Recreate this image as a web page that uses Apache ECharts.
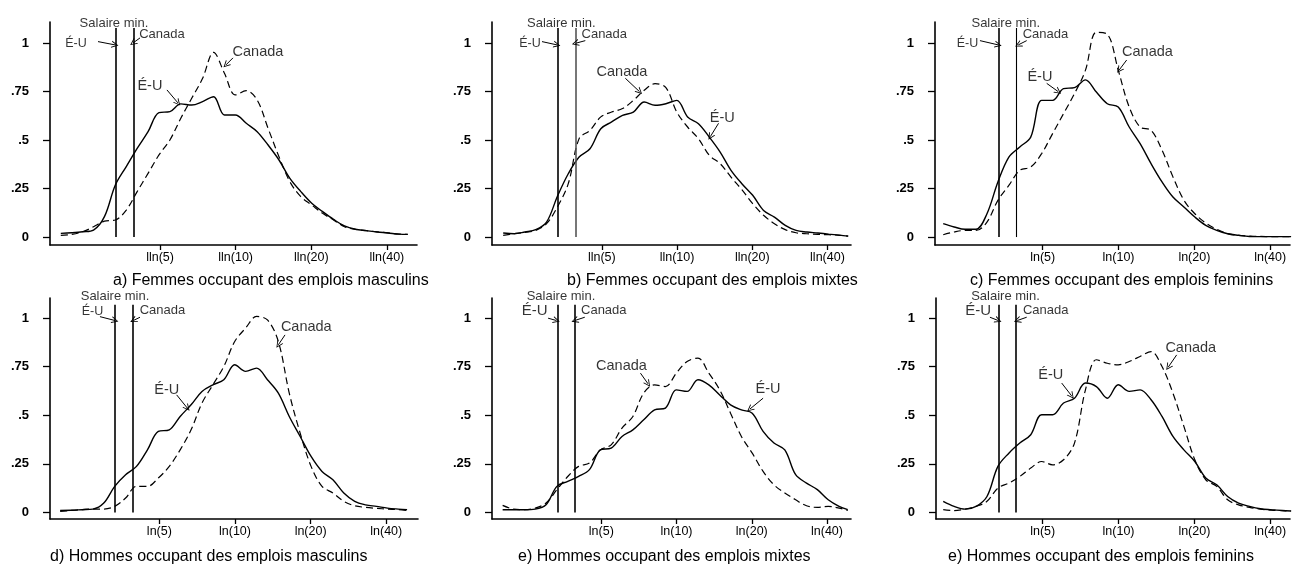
<!DOCTYPE html>
<html>
<head>
<meta charset="utf-8">
<script src="https://cdn.jsdelivr.net/npm/echarts@6/dist/echarts.min.js"></script>
<style>
  html, body { margin: 0; padding: 0; background: #fff; }
  #chart { width: 1293px; height: 567px; }
</style>
</head>
<body>
<div id="chart"></div>
<script>
// points de la grille (ln du salaire horaire)
const lnWage = [0.7, 0.8, 0.9, 1.0, 1.1, 1.2, 1.3, 1.4, 1.5, 1.6, 1.7, 1.8, 1.9, 2.0, 2.1, 2.2,
  2.3, 2.4, 2.5, 2.6, 2.7, 2.8, 2.9, 3.0, 3.1, 3.2, 3.3, 3.4, 3.5, 3.6, 3.7, 3.8, 3.88];

// densités : É-U (trait plein) et Canada (tirets)
const usA = [0.019, 0.022, 0.027, 0.036, 0.105, 0.268, 0.363, 0.457, 0.543, 0.641, 0.646, 0.686, 0.68, 0.698, 0.723, 0.629,
  0.629, 0.586, 0.543, 0.474, 0.397, 0.302, 0.234, 0.174, 0.131, 0.091, 0.057, 0.04, 0.033, 0.026, 0.021, 0.015, 0.014];
const caA = [0.009, 0.014, 0.027, 0.053, 0.082, 0.088, 0.139, 0.234, 0.328, 0.423, 0.5, 0.612, 0.715, 0.818, 0.952, 0.844,
  0.732, 0.754, 0.706, 0.56, 0.414, 0.285, 0.208, 0.165, 0.122, 0.088, 0.053, 0.04, 0.033, 0.027, 0.021, 0.015, 0.014];
const usB = [0.021, 0.017, 0.026, 0.038, 0.077, 0.21, 0.326, 0.412, 0.455, 0.558, 0.593, 0.627, 0.644, 0.696, 0.679, 0.687,
  0.704, 0.619, 0.584, 0.515, 0.438, 0.344, 0.275, 0.215, 0.137, 0.103, 0.06, 0.034, 0.026, 0.021, 0.015, 0.01, 0.005];
const caB = [0.009, 0.017, 0.024, 0.034, 0.069, 0.155, 0.275, 0.507, 0.55, 0.619, 0.644, 0.662, 0.704, 0.756, 0.79, 0.77,
  0.644, 0.567, 0.507, 0.421, 0.378, 0.309, 0.244, 0.172, 0.112, 0.069, 0.038, 0.022, 0.017, 0.014, 0.012, 0.009, 0.005];
const usC = [0.069, 0.052, 0.04, 0.04, 0.12, 0.284, 0.412, 0.464, 0.515, 0.704, 0.704, 0.765, 0.77, 0.81, 0.747, 0.687,
  0.67, 0.567, 0.481, 0.378, 0.284, 0.206, 0.155, 0.103, 0.06, 0.034, 0.017, 0.009, 0.003, 0.002, 0.002, 0.002, 0.002];
const caC = [0.012, 0.026, 0.034, 0.034, 0.077, 0.189, 0.266, 0.344, 0.361, 0.43, 0.533, 0.636, 0.739, 0.859, 1.055, 1.045,
  0.86, 0.67, 0.567, 0.55, 0.448, 0.31, 0.19, 0.12, 0.072, 0.04, 0.018, 0.009, 0.005, 0.003, 0.002, 0.002, 0.002];
const usD = [0.01, 0.011, 0.014, 0.017, 0.048, 0.134, 0.194, 0.237, 0.322, 0.417, 0.425, 0.494, 0.554, 0.623, 0.657, 0.683,
  0.76, 0.726, 0.743, 0.683, 0.614, 0.494, 0.391, 0.288, 0.211, 0.168, 0.1, 0.057, 0.039, 0.031, 0.022, 0.017, 0.014];
const caD = [0.005, 0.01, 0.014, 0.017, 0.017, 0.031, 0.074, 0.134, 0.134, 0.177, 0.237, 0.322, 0.425, 0.563, 0.657, 0.751,
  0.88, 0.949, 1.009, 0.991, 0.88, 0.614, 0.408, 0.237, 0.134, 0.1, 0.057, 0.034, 0.026, 0.021, 0.017, 0.014, 0.01];
const usE = [0.014, 0.014, 0.014, 0.017, 0.039, 0.134, 0.16, 0.185, 0.22, 0.322, 0.331, 0.391, 0.425, 0.477, 0.528, 0.537,
  0.631, 0.623, 0.683, 0.657, 0.605, 0.554, 0.528, 0.511, 0.417, 0.357, 0.322, 0.194, 0.151, 0.117, 0.065, 0.031, 0.014];
const caE = [0.036, 0.017, 0.014, 0.022, 0.048, 0.117, 0.185, 0.237, 0.254, 0.322, 0.348, 0.434, 0.494, 0.614, 0.657, 0.648,
  0.717, 0.777, 0.794, 0.717, 0.631, 0.511, 0.391, 0.305, 0.211, 0.142, 0.1, 0.065, 0.034, 0.026, 0.031, 0.022, 0.01];
const usF = [0.057, 0.031, 0.017, 0.031, 0.082, 0.237, 0.305, 0.357, 0.4, 0.503, 0.503, 0.563, 0.588, 0.666, 0.648, 0.588,
  0.657, 0.623, 0.631, 0.58, 0.494, 0.391, 0.322, 0.262, 0.177, 0.142, 0.082, 0.048, 0.031, 0.019, 0.014, 0.01, 0.007];
const caF = [0.014, 0.009, 0.017, 0.031, 0.057, 0.125, 0.151, 0.185, 0.228, 0.262, 0.245, 0.271, 0.357, 0.631, 0.786, 0.768,
  0.76, 0.777, 0.803, 0.828, 0.751, 0.614, 0.443, 0.271, 0.168, 0.134, 0.065, 0.039, 0.026, 0.017, 0.012, 0.009, 0.007];

// axes
const wageTicks = [5, 10, 20, 40];
const densityTicks = [0, 0.25, 0.5, 0.75, 1];
const densityLabels = ['0', '.25', '.5', '.75', '1'];
const minWageUS = 1.205;   // ln du salaire minimum
const minWageCA = 1.367;

const captions = [
  'a) Femmes occupant des emplois masculins',
  'b) Femmes occupant des emplois mixtes',
  'c) Femmes occupant des emplois feminins',
  'd) Hommes occupant des emplois masculins',
  'e) Hommes occupant des emplois mixtes',
  'e) Hommes occupant des emplois feminins',
];

// étiquettes [texte, x, y, taille] et flèches [x1, y1, x2, y2], en coordonnées des données
const notesA = [['Salaire min.', 1.187, 1.103, 13], ['É-U', 0.839, 0.995, 12.5], ['Canada', 1.627, 1.046, 13],
  ['Canada', 2.507, 0.954, 14.5], ['É-U', 1.517, 0.778, 14.5]];
const arrowsA = [[1.041, 1.007, 1.197, 0.99], [1.426, 1.026, 1.362, 1.0], [2.278, 0.923, 2.214, 0.887], [1.673, 0.758, 1.774, 0.691]];
const notesB = [['Salaire min.', 1.236, 1.1, 13], ['É-U', 0.947, 0.995, 12.5], ['Canada', 1.632, 1.043, 13],
  ['Canada', 1.795, 0.848, 14.5], ['É-U', 2.72, 0.613, 14.5]];
const arrowsB = [[1.058, 1.007, 1.196, 0.99], [1.457, 1.012, 1.365, 0.998], [1.826, 0.818, 1.957, 0.749], [2.685, 0.586, 2.609, 0.517]];
const notesC = [['Salaire min.', 1.272, 1.103, 13], ['É-U', 0.922, 0.995, 12.5], ['Canada', 1.635, 1.044, 13],
  ['Canada', 2.567, 0.951, 14.5], ['É-U', 1.584, 0.826, 14.5]];
const arrowsC = [[1.036, 1.012, 1.203, 0.99], [1.463, 1.012, 1.386, 0.99], [2.377, 0.912, 2.309, 0.861], [1.646, 0.792, 1.752, 0.749]];
const notesD = [['Salaire min.', 1.203, 1.11, 13], ['É-U', 0.997, 1.036, 12.5], ['Canada', 1.638, 1.039, 13],
  ['Canada', 2.956, 0.953, 14.5], ['É-U', 1.677, 0.631, 14.5]];
const arrowsD = [[1.065, 1.008, 1.203, 0.988], [1.432, 1.005, 1.371, 0.988], [2.761, 0.914, 2.7, 0.863], [1.768, 0.605, 1.866, 0.537]];
const notesE = [['Salaire min.', 1.238, 1.11, 13], ['É-U', 0.996, 1.036, 15], ['Canada', 1.632, 1.039, 13],
  ['Canada', 1.795, 0.756, 14.5], ['É-U', 3.146, 0.636, 14.5]];
const arrowsE = [[1.119, 1.0, 1.196, 0.988], [1.457, 1.005, 1.365, 0.988], [1.97, 0.717, 2.04, 0.662], [3.1, 0.588, 2.978, 0.532]];
const notesF = [['Salaire min.', 1.269, 1.11, 13], ['É-U', 1.02, 1.036, 15], ['Canada', 1.637, 1.039, 13],
  ['Canada', 2.963, 0.848, 14.5], ['É-U', 1.683, 0.706, 14.5]];
const arrowsF = [[1.127, 1.005, 1.203, 0.988], [1.463, 1.005, 1.377, 0.988], [2.834, 0.811, 2.757, 0.748], [1.783, 0.666, 1.874, 0.6]];

const FONT = '"Liberation Sans", Arial, sans-serif';
const OPEN_ARROW = 'path://M5,0 L10,10 L8.6,10 L5,2.6 L1.4,10 L0,10 Z';

// mise en page des six panneaux (px) et étendue des axes
const panels = [
  { us: usA, ca: caA, notes: notesA, arrows: arrowsA, grid: [50, 22, 367, 223], x: [0.601, 3.965], y: [-0.041, 1.108], top: 1.077, prefix: 'lln', cap: [113, 273] },
  { us: usB, ca: caB, notes: notesB, arrows: arrowsB, grid: [492, 22, 359, 223], x: [0.597, 3.906], y: [-0.041, 1.108], top: 1.077, prefix: 'lln', cap: [567, 273], caGrey: true },
  { us: usC, ca: caC, notes: notesC, arrows: arrowsC, grid: [935, 22, 355, 223], x: [0.625, 3.87], y: [-0.041, 1.108], top: 1.077, prefix: 'ln', cap: [970, 273], caThin: true },
  { us: usD, ca: caD, notes: notesD, arrows: arrowsD, grid: [50, 298, 368, 221], x: [0.607, 3.98], y: [-0.034, 1.104], top: 1.069, prefix: 'ln', cap: [50, 549] },
  { us: usE, ca: caE, notes: notesE, arrows: arrowsE, grid: [492, 298, 359, 221], x: [0.602, 3.91], y: [-0.034, 1.104], top: 1.069, prefix: 'ln', cap: [518, 549] },
  { us: usF, ca: caF, notes: notesF, arrows: arrowsF, grid: [936, 298, 354, 221], x: [0.634, 3.87], y: [-0.034, 1.104], top: 1.069, prefix: 'ln', cap: [948, 549] },
];

const axisLine = { show: true, onZero: false, lineStyle: { color: '#000', width: 1.6 } };

const grids = [], xAxes = [], yAxes = [], series = [], titles = [];

panels.forEach((p, i) => {
  grids.push({ left: p.grid[0], top: p.grid[1], width: p.grid[2], height: p.grid[3], containLabel: false });

  const lnTicks = wageTicks.map((w) => Math.log(w));
  xAxes.push({
    type: 'value', gridIndex: i, min: p.x[0], max: p.x[1],
    axisLine,
    axisTick: { show: true, customValues: lnTicks, length: 5, lineStyle: { color: '#000', width: 1.3 } },
    axisLabel: {
      show: true, customValues: lnTicks, margin: 6, color: '#000', fontFamily: FONT, fontSize: 12.5,
      formatter: (v) => `${p.prefix}(${Math.round(Math.exp(v))})`,
    },
    splitLine: { show: false },
  });

  yAxes.push({
    type: 'value', gridIndex: i, min: p.y[0], max: p.y[1],
    axisLine,
    axisTick: { show: true, customValues: densityTicks, length: 7, lineStyle: { color: '#000', width: 1.3 } },
    axisLabel: {
      show: true, customValues: densityTicks, margin: 21, color: '#000', fontFamily: FONT,
      fontSize: 13, fontWeight: 'bold',
      formatter: (v) => densityLabels[densityTicks.findIndex((t) => Math.abs(t - v) < 1e-6)] ?? '',
    },
    splitLine: { show: false },
  });

  series.push({
    type: 'line', xAxisIndex: i, yAxisIndex: i, name: 'É-U',
    data: lnWage.map((x, k) => [x, p.us[k]]),
    showSymbol: false, smooth: 0.35, silent: true,
    lineStyle: { color: '#000', width: 1.4 },
  });
  series.push({
    type: 'line', xAxisIndex: i, yAxisIndex: i, name: 'Canada',
    data: lnWage.map((x, k) => [x, p.ca[k]]),
    showSymbol: false, smooth: 0.35, silent: true,
    lineStyle: { color: '#000', width: 1.2, type: [7, 4] },
  });

  const vline = (x, style) => [
    { coord: [x, 0], symbol: 'none', lineStyle: style },
    { coord: [x, p.top], symbol: 'none' },
  ];
  const arrow = (a) => [
    { coord: [a[0], a[1]], symbol: 'none', lineStyle: { color: '#000', width: 1, type: 'solid' } },
    { coord: [a[2], a[3]], symbol: OPEN_ARROW, symbolSize: [7, 7] },
  ];

  series.push({
    type: 'scatter', xAxisIndex: i, yAxisIndex: i, clip: false, silent: true,
    symbolSize: 0,
    data: p.notes.map((n) => ({
      value: [n[1], n[2]], name: n[0],
      label: { fontSize: n[3] },
    })),
    label: {
      show: true, position: 'inside', formatter: '{b}', color: '#000', fontFamily: FONT,
    },
    markLine: {
      silent: true, animation: false,
      label: { show: false },
      data: [
        vline(minWageUS, { color: '#000', width: 1.6, type: 'solid' }),
        vline(minWageCA, { color: p.caGrey ? '#555' : '#000', width: p.caThin ? 1.1 : 1.6, type: 'solid' }),
        ...p.arrows.map(arrow),
      ],
    },
  });

  titles.push({
    text: captions[i], left: p.cap[0], top: p.cap[1], padding: 0,
    textStyle: { fontFamily: FONT, fontSize: 16, fontWeight: 'normal', color: '#000', lineHeight: 16 },
  });
});

const chart = echarts.init(document.getElementById('chart'), null, { renderer: 'canvas' });
chart.setOption({
  backgroundColor: '#fff',
  animation: false,
  title: titles,
  grid: grids,
  xAxis: xAxes,
  yAxis: yAxes,
  series,
});
</script>
</body>
</html>
